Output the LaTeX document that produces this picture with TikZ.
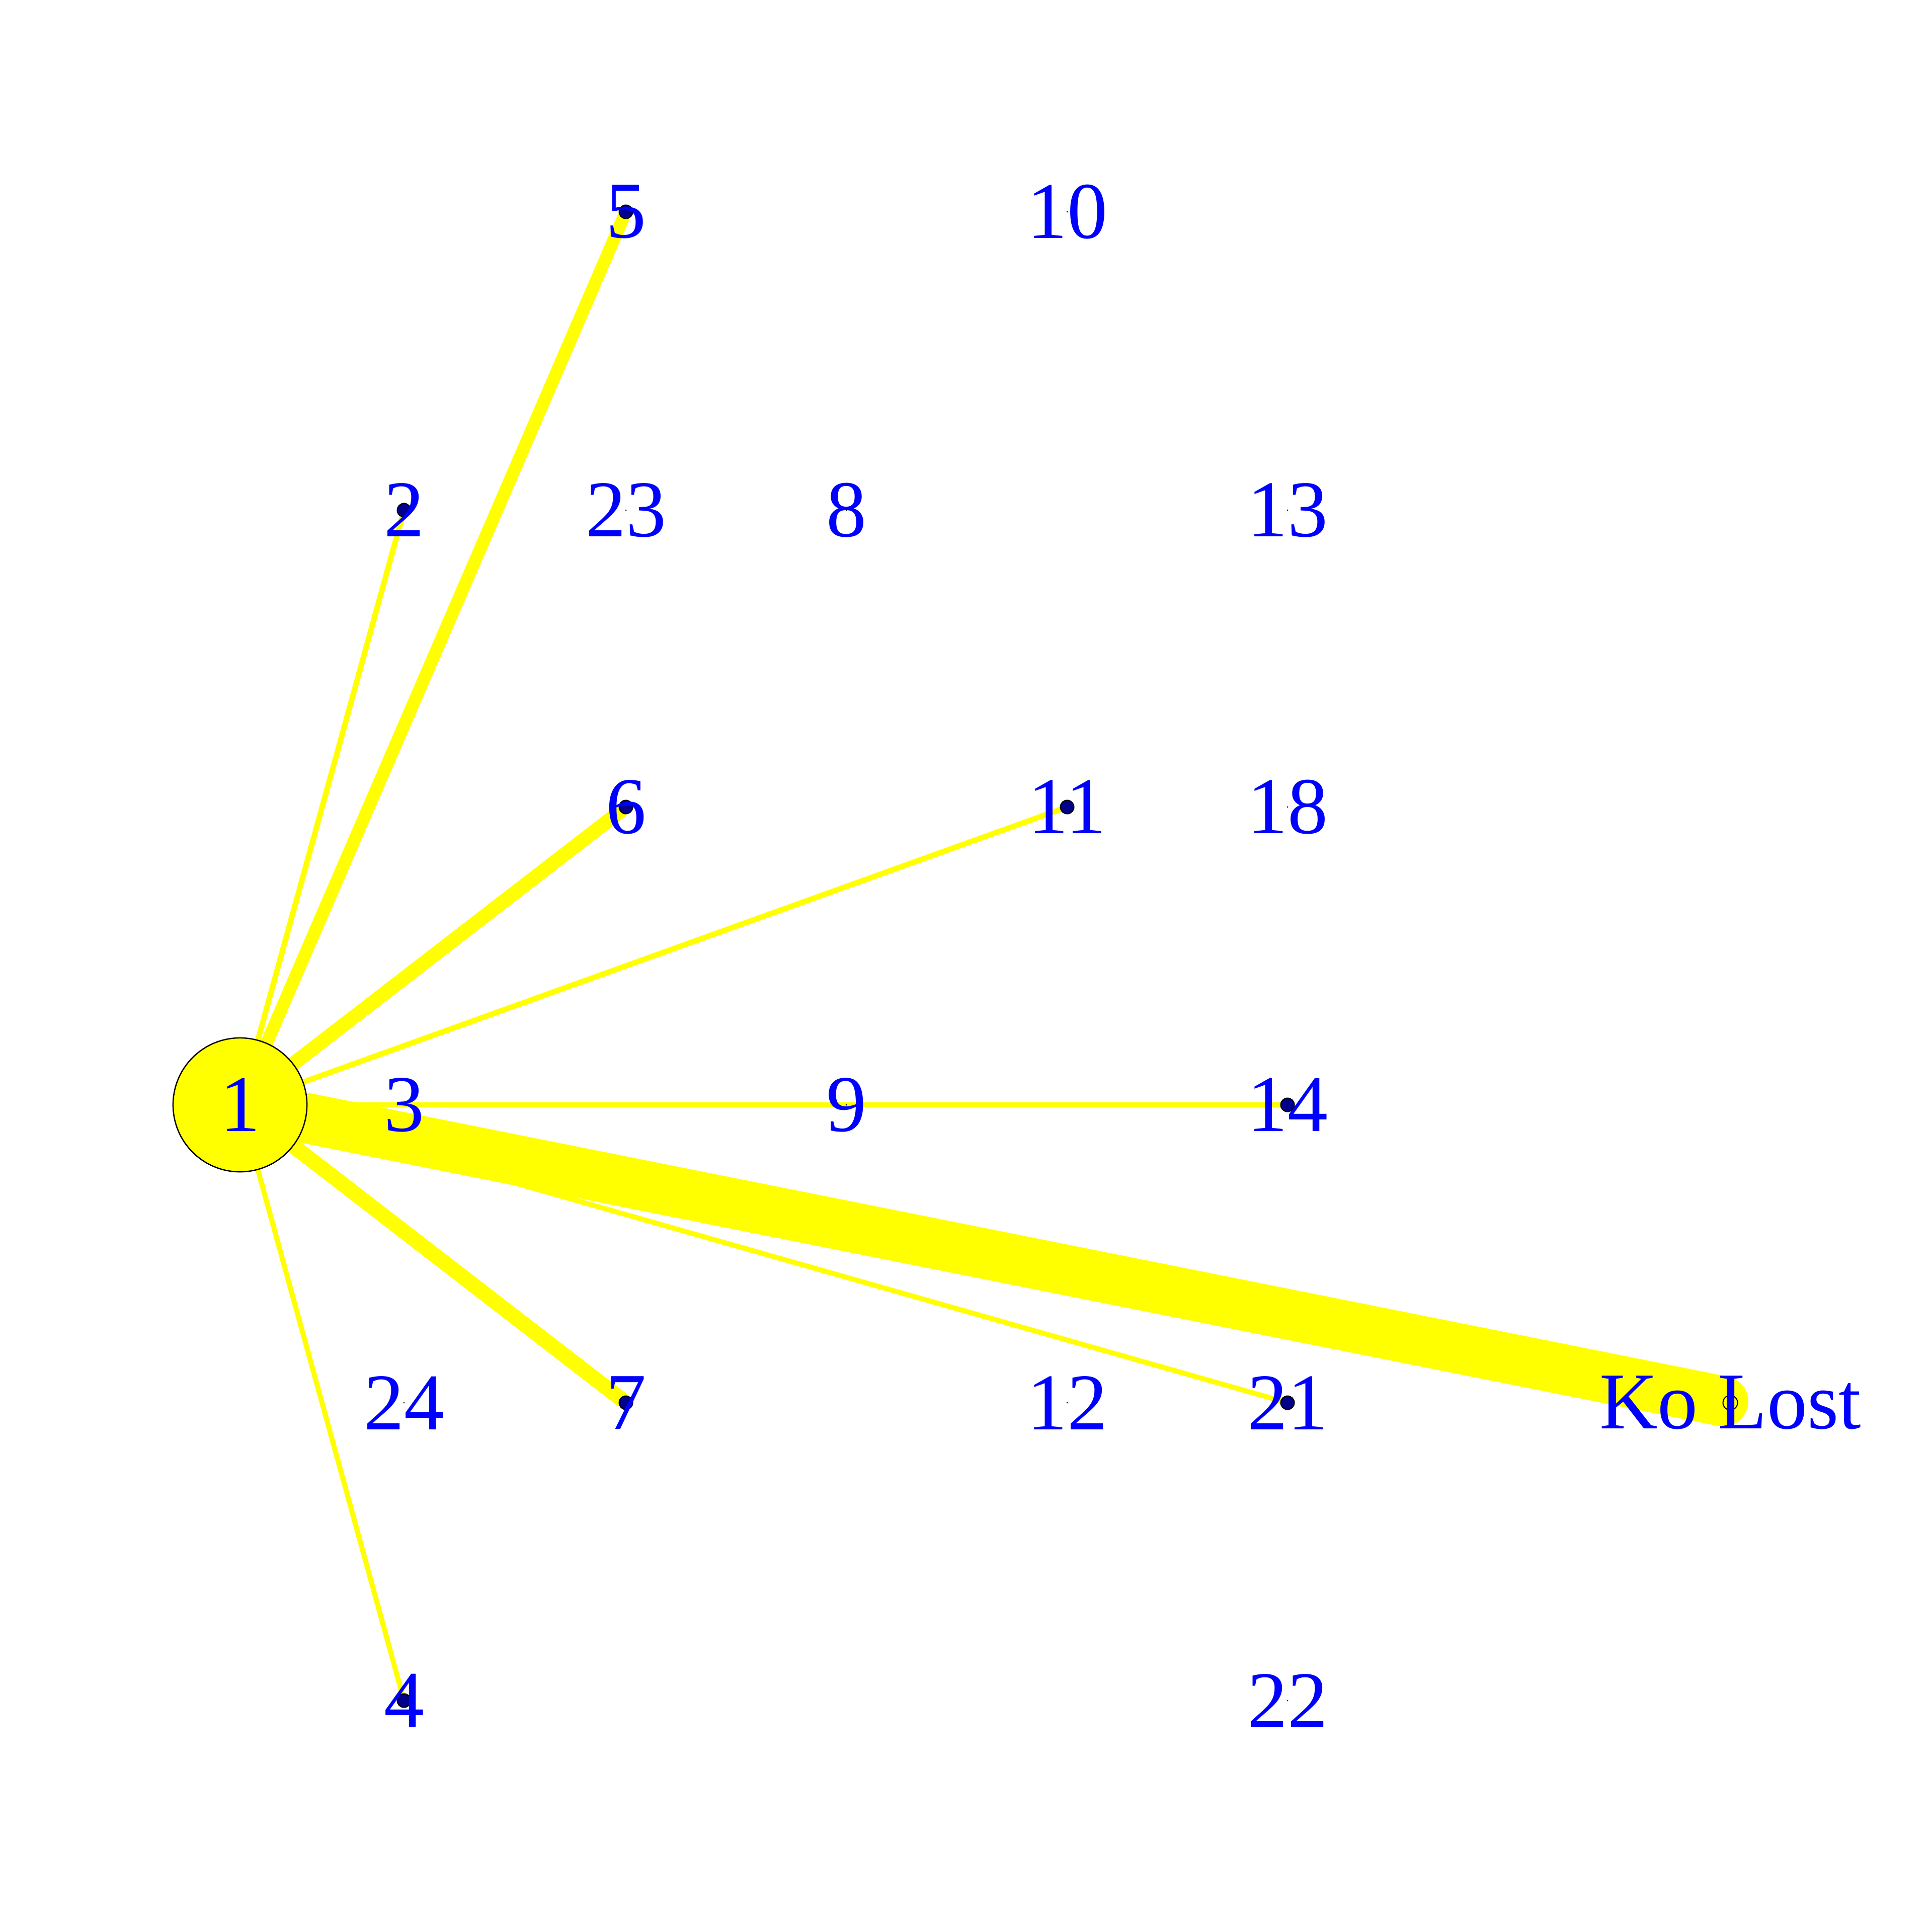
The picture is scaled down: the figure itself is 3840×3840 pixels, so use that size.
\documentclass[tikz,border=0pt]{standalone}
\usepackage{fontspec}
\setmainfont{Liberation Serif}
\usetikzlibrary{backgrounds}
\definecolor{vblue}{HTML}{0000FF}
\definecolor{vnavy}{HTML}{00008B}
\definecolor{vyellow}{HTML}{FFFF00}

\begin{document}
\begin{tikzpicture}[
  x=0.01cm, y=-0.01cm,
  vhub/.style={circle, draw=black, line width=0.025cm, fill=vyellow,
               minimum size=2.66cm, inner sep=0pt, outer sep=0pt},
  vdot/.style={circle, draw=black, line width=0.02cm, fill=vnavy,
               minimum size=0.27cm, inner sep=0pt, outer sep=0pt},
  vspeck/.style={circle, fill=black, minimum size=0.03cm, inner sep=0pt, outer sep=0pt},
  vring/.style={circle, draw=black, line width=0.02cm,
               minimum size=0.29cm, inner sep=0pt, outer sep=0pt},
  lbl/.style={text=vblue, inner sep=0pt, font=\fontsize{45.5}{50}\selectfont},
  link/.style={vyellow, line cap=round},
]
\useasboundingbox (0,0) rectangle (3840,3840);

% ---------------- vertices -----------------------------------------
\foreach \n/\x/\y/\k in {1/477/2196/vhub, 2/803/1014/vdot, 3/803/2196/vspeck,
    4/803/3380/vdot, 5/1244/421/vdot, 6/1244/1604/vdot, 7/1244/2788/vdot,
    8/1682/1014/vspeck, 9/1682/2196/vspeck, 10/2121/421/vspeck,
    11/2121/1604/vdot, 12/2121/2788/vspeck, 13/2559/1014/vspeck,
    14/2559/2196/vdot, 18/2559/1604/vspeck, 21/2559/2788/vdot,
    22/2559/3380/vspeck, 23/1244/1014/vspeck, 24/803/2788/vspeck}
  \node[\k] (v\n) at (\x,\y) {};
\node[vring] (vko) at (3439,2788) {};

% ---------------- links --------------------------------------------
\begin{pgfonlayer}{background}
\foreach \t/\w in {2/0.11cm, 5/0.25cm, 6/0.28cm, 11/0.11cm, 14/0.10cm,
                   21/0.10cm, 7/0.30cm, 4/0.10cm}
  \draw[link, line width=\w] (v1) -- (v\t);
\draw[link, line width=1.0cm] (v1) -- (vko);
\end{pgfonlayer}

% ---------------- labels -------------------------------------------
\foreach \n in {1,2,3,4,5,6,7,8,9,10,11,12,13,14,18,21,22,23,24}
  \node[lbl] (t\n) at (v\n.center) {\n};
\node[lbl] (tko) at (vko.center) {Ko Lost};

\end{tikzpicture}
\end{document}
